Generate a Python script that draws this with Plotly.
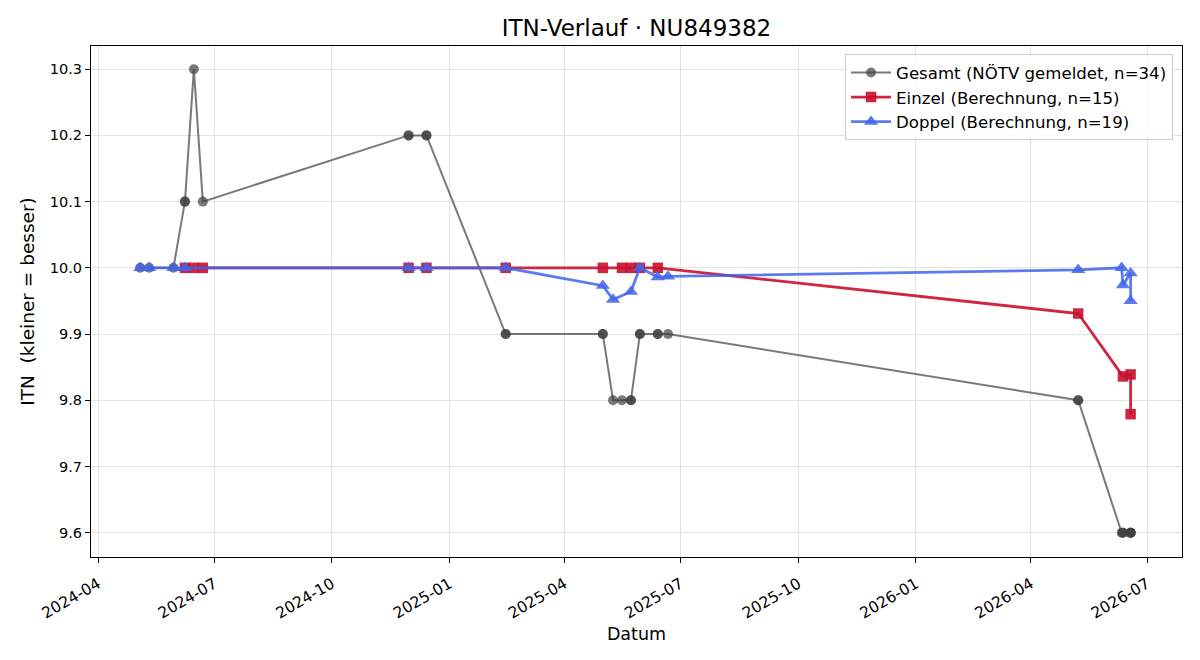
import plotly.graph_objects as go

# ---------------- data ----------------
gesamt_dates = ['2024-05-04', '2024-05-11', '2024-05-30', '2024-06-08', '2024-06-08',
                '2024-06-15', '2024-06-22', '2024-11-30', '2024-11-30', '2024-12-14',
                '2024-12-14', '2025-02-14', '2025-02-14', '2025-05-01', '2025-05-01',
                '2025-05-09', '2025-05-16', '2025-05-23', '2025-05-23', '2025-05-30',
                '2025-05-30', '2025-06-13', '2025-06-13', '2025-06-21', '2026-05-08',
                '2026-05-08', '2026-06-11', '2026-06-12', '2026-06-12', '2026-06-18',
                '2026-06-18', '2026-06-18', '2026-06-18']
gesamt_itn = [10.0, 10.0, 10.0, 10.1, 10.1,
              10.3, 10.1, 10.2, 10.2, 10.2,
              10.2, 9.9, 9.9, 9.9, 9.9,
              9.8, 9.8, 9.8, 9.8, 9.9,
              9.9, 9.9, 9.9, 9.9, 9.8,
              9.8, 9.6, 9.6, 9.6, 9.6,
              9.6, 9.6, 9.6]

einzel_dates = ['2024-06-08', '2024-06-15', '2024-06-22', '2024-11-30', '2024-12-14',
                '2025-02-14', '2025-05-01', '2025-05-16', '2025-05-23', '2025-05-30',
                '2025-06-13', '2026-05-08', '2026-06-12', '2026-06-18', '2026-06-18']
einzel_itn = [10.0, 10.0, 10.0, 10.0, 10.0,
              10.0, 10.0, 10.0, 10.0, 10.0,
              10.0, 9.931, 9.836, 9.839, 9.779]

doppel_dates = ['2024-05-04', '2024-05-11', '2024-05-30', '2024-06-08', '2024-11-30',
                '2024-12-14', '2025-02-14', '2025-05-01', '2025-05-09', '2025-05-23',
                '2025-05-30', '2025-06-13', '2025-06-21', '2026-05-08', '2026-06-11',
                '2026-06-12', '2026-06-18', '2026-06-18']
doppel_itn = [10.0, 10.0, 10.0, 10.0, 10.0,
              10.0, 10.0, 9.973, 9.952, 9.964,
              10.0, 9.986, 9.987, 9.997, 10.0,
              9.974, 9.992, 9.950]

labels = ['Gesamt (NÖTV gemeldet, n=34)',
          'Einzel (Berechnung, n=15)',
          'Doppel (Berechnung, n=19)']

x_tickvals = ['2024-04-01', '2024-07-01', '2024-10-01', '2025-01-01', '2025-04-01',
              '2025-07-01', '2025-10-01', '2026-01-01', '2026-04-01', '2026-07-01']
x_ticktext = ['2024-04', '2024-07', '2024-10', '2025-01', '2025-04',
              '2025-07', '2025-10', '2026-01', '2026-04', '2026-07']
y_tickvals = [9.6, 9.7, 9.8, 9.9, 10.0, 10.1, 10.2, 10.3]
y_ticktext = ['9.6', '9.7', '9.8', '9.9', '10.0', '10.1', '10.2', '10.3']

FONT = 'DejaVu Sans'

fig = go.Figure()
fig.add_trace(go.Scatter(
    x=gesamt_dates, y=gesamt_itn, mode='lines+markers', name=labels[0],
    line=dict(color='rgba(64,64,64,0.7)', width=2),
    marker=dict(symbol='circle', size=10, color='rgba(64,64,64,0.7)', line=dict(width=0)),
))
fig.add_trace(go.Scatter(
    x=einzel_dates, y=einzel_itn, mode='lines+markers', name=labels[1],
    line=dict(color='rgba(200,16,46,0.9)', width=2.8),
    marker=dict(symbol='square', size=10.5, color='rgba(200,16,46,0.9)', line=dict(width=0)),
))
fig.add_trace(go.Scatter(
    x=doppel_dates, y=doppel_itn, mode='lines+markers', name=labels[2],
    line=dict(color='rgba(65,100,235,0.85)', width=2.8),
    marker=dict(symbol='triangle-up', size=12.5, color='rgba(65,100,235,0.85)', line=dict(width=0)),
))

axis_common = dict(
    showline=True, linecolor='black', linewidth=1, mirror=True,
    ticks='outside', ticklen=5, tickwidth=1, tickcolor='black',
    showgrid=True, gridcolor='#e3e3e3', gridwidth=1, zeroline=False,
)

fig.update_layout(
    width=1200, height=660,
    margin=dict(l=91, r=18, t=46, b=103),
    paper_bgcolor='white', plot_bgcolor='white',
    font=dict(family=FONT, color='black'),
    title=dict(text='ITN-Verlauf · NU849382', x=0.5304, xanchor='center',
               y=1 - 28 / 660, yanchor='middle', yref='container',
               font=dict(family=FONT, size=23, color='black')),
    xaxis=dict(axis_common, type='date',
               range=['2024-03-26 12:00', '2026-07-28 05:00'],
               tickvals=x_tickvals, ticktext=x_ticktext, tickangle=-30,
               tickfont=dict(family=FONT, size=15.5, color='black'),
               ticklabelstandoff=6,
               title=dict(text='Datum', font=dict(family=FONT, size=17.5), standoff=6)),
    yaxis=dict(axis_common, range=[9.5633, 10.335],
               tickvals=y_tickvals, ticktext=y_ticktext,
               tickfont=dict(family=FONT, size=14.5, color='black'),
               title=dict(text='ITN  (kleiner = besser)', font=dict(family=FONT, size=18.5), standoff=10)),
    legend=dict(x=0.9918, y=0.984, xanchor='right', yanchor='top',
                bgcolor='rgba(255,255,255,0.85)', bordercolor='#cccccc', borderwidth=1,
                font=dict(family=FONT, size=16.6, color='black'),
                itemwidth=40, tracegroupgap=0),
    showlegend=True,
)

fig.write_html('out.html')
